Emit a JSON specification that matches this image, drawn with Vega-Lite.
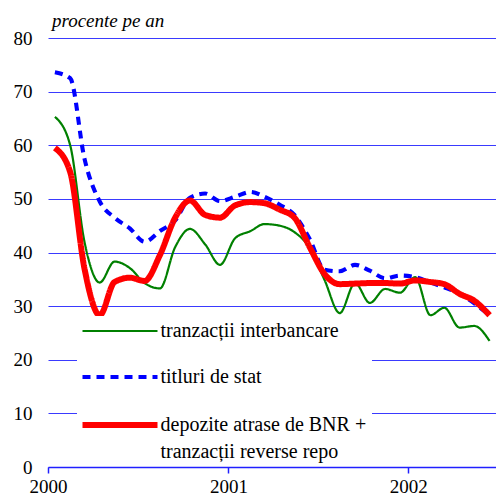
{
  "$schema": "https://vega.github.io/schema/vega-lite/v6.json",
  "width": 448,
  "height": 429,
  "autosize": {"type": "none"},
  "padding": {"left": 48, "top": 38, "right": 0, "bottom": 33},
  "background": "white",
  "title": {"text": "procente pe an", "anchor": "start", "frame": "group", "fontSize": 19, "fontStyle": "italic", "fontWeight": "normal", "color": "black", "offset": -2, "dx": 4},
  "data": {"values": [
    {"luna": "2000-01-15", "tranzacții interbancare": 65.3, "titluri de stat": 73.6, "depozite atrase de BNR + tranzacții reverse repo": 59.5},
    {"luna": "2000-02-15", "tranzacții interbancare": 60.0, "titluri de stat": 72.5, "depozite atrase de BNR + tranzacții reverse repo": 55.0},
    {"luna": "2000-03-15", "tranzacții interbancare": 42.0, "titluri de stat": 57.5, "depozite atrase de BNR + tranzacții reverse repo": 37.0},
    {"luna": "2000-04-15", "tranzacții interbancare": 34.4, "titluri de stat": 49.5, "depozite atrase de BNR + tranzacții reverse repo": 28.3},
    {"luna": "2000-05-15", "tranzacții interbancare": 38.3, "titluri de stat": 46.5, "depozite atrase de BNR + tranzacții reverse repo": 34.5},
    {"luna": "2000-06-15", "tranzacții interbancare": 37.1, "titluri de stat": 44.5, "depozite atrase de BNR + tranzacții reverse repo": 35.3},
    {"luna": "2000-07-15", "tranzacții interbancare": 34.3, "titluri de stat": 42.0, "depozite atrase de BNR + tranzacții reverse repo": 34.7},
    {"luna": "2000-08-15", "tranzacții interbancare": 33.3, "titluri de stat": 44.0, "depozite atrase de BNR + tranzacții reverse repo": 39.5},
    {"luna": "2000-09-15", "tranzacții interbancare": 41.0, "titluri de stat": 46.0, "depozite atrase de BNR + tranzacții reverse repo": 46.5},
    {"luna": "2000-10-15", "tranzacții interbancare": 44.4, "titluri de stat": 50.2, "depozite atrase de BNR + tranzacții reverse repo": 49.7},
    {"luna": "2000-11-15", "tranzacții interbancare": 41.5, "titluri de stat": 51.0, "depozite atrase de BNR + tranzacții reverse repo": 47.0},
    {"luna": "2000-12-15", "tranzacții interbancare": 37.7, "titluri de stat": 49.6, "depozite atrase de BNR + tranzacții reverse repo": 46.5},
    {"luna": "2001-01-15", "tranzacții interbancare": 42.7, "titluri de stat": 50.4, "depozite atrase de BNR + tranzacții reverse repo": 48.8},
    {"luna": "2001-02-15", "tranzacții interbancare": 44.0, "titluri de stat": 51.3, "depozite atrase de BNR + tranzacții reverse repo": 49.4},
    {"luna": "2001-03-15", "tranzacții interbancare": 45.3, "titluri de stat": 50.4, "depozite atrase de BNR + tranzacții reverse repo": 49.2},
    {"luna": "2001-04-15", "tranzacții interbancare": 45.0, "titluri de stat": 48.9, "depozite atrase de BNR + tranzacții reverse repo": 48.0},
    {"luna": "2001-05-15", "tranzacții interbancare": 43.8, "titluri de stat": 47.0, "depozite atrase de BNR + tranzacții reverse repo": 46.5},
    {"luna": "2001-06-15", "tranzacții interbancare": 40.8, "titluri de stat": 42.5, "depozite atrase de BNR + tranzacții reverse repo": 41.0},
    {"luna": "2001-07-15", "tranzacții interbancare": 34.9, "titluri de stat": 36.8, "depozite atrase de BNR + tranzacții reverse repo": 36.0},
    {"luna": "2001-08-15", "tranzacții interbancare": 28.7, "titluri de stat": 36.5, "depozite atrase de BNR + tranzacții reverse repo": 34.1},
    {"luna": "2001-09-15", "tranzacții interbancare": 34.3, "titluri de stat": 37.7, "depozite atrase de BNR + tranzacții reverse repo": 34.2},
    {"luna": "2001-10-15", "tranzacții interbancare": 30.6, "titluri de stat": 36.6, "depozite atrase de BNR + tranzacții reverse repo": 34.3},
    {"luna": "2001-11-15", "tranzacții interbancare": 33.2, "titluri de stat": 35.2, "depozite atrase de BNR + tranzacții reverse repo": 34.3},
    {"luna": "2001-12-15", "tranzacții interbancare": 32.5, "titluri de stat": 35.7, "depozite atrase de BNR + tranzacții reverse repo": 34.2},
    {"luna": "2002-01-15", "tranzacții interbancare": 35.4, "titluri de stat": 35.4, "depozite atrase de BNR + tranzacții reverse repo": 34.8},
    {"luna": "2002-02-15", "tranzacții interbancare": 28.3, "titluri de stat": 34.4, "depozite atrase de BNR + tranzacții reverse repo": 34.5},
    {"luna": "2002-03-15", "tranzacții interbancare": 29.7, "titluri de stat": 33.5, "depozite atrase de BNR + tranzacții reverse repo": 34.1},
    {"luna": "2002-04-15", "tranzacții interbancare": 26.0, "titluri de stat": 32.3, "depozite atrase de BNR + tranzacții reverse repo": 32.3},
    {"luna": "2002-05-15", "tranzacții interbancare": 26.3, "titluri de stat": 30.5, "depozite atrase de BNR + tranzacții reverse repo": 31.0},
    {"luna": "2002-06-15", "tranzacții interbancare": 23.5, "titluri de stat": 28.3, "depozite atrase de BNR + tranzacții reverse repo": 28.3}
  ]},
  "transform": [
    {"fold": ["tranzacții interbancare", "titluri de stat", "depozite atrase de BNR + tranzacții reverse repo"], "as": ["serie", "valoare"]}
  ],
  "mark": {"type": "line", "interpolate": "monotone"},
  "encoding": {
    "x": {
      "field": "luna", "type": "temporal",
      "scale": {"type": "utc", "domain": [{"year": 2000, "month": 1, "date": 1, "utc": true}, {"year": 2002, "month": 6, "date": 28, "utc": true}]},
      "axis": {
        "title": null, "format": "%Y", "grid": false, "zindex": 1,
        "values": [{"year": 2000, "month": 1, "date": 1, "utc": true}, {"year": 2001, "month": 1, "date": 1, "utc": true}, {"year": 2002, "month": 1, "date": 1, "utc": true}],
        "domainColor": "#2020ff", "domainWidth": 1.5, "tickColor": "#2020ff", "tickSize": 6, "tickWidth": 1.5,
        "labelPadding": 4, "labelFlush": false
      }
    },
    "y": {
      "field": "valoare", "type": "quantitative",
      "scale": {"domain": [0, 80], "nice": false},
      "axis": {
        "title": null, "values": [0, 10, 20, 30, 40, 50, 60, 70, 80], "domain": false, "ticks": false,
        "grid": true, "gridColor": "#3a3aff", "gridWidth": 1, "gridOpacity": 1,
        "labelPadding": 16
      }
    },
    "color": {
      "field": "serie", "type": "nominal",
      "scale": {"domain": ["tranzacții interbancare", "titluri de stat", "depozite atrase de BNR + tranzacții reverse repo"], "range": ["#008000", "#0000ff", "#ff0000"]},
      "legend": {
        "title": null,
        "labelExpr": "indexof(datum.label, 'BNR') >= 0 ? ['depozite atrase de BNR +', 'tranzacții reverse repo'] : datum.label"
      }
    },
    "strokeWidth": {
      "field": "serie", "type": "nominal",
      "scale": {"domain": ["tranzacții interbancare", "titluri de stat", "depozite atrase de BNR + tranzacții reverse repo"], "range": [2.2, 6, 6.5]},
      "legend": {"title": null}
    },
    "strokeDash": {
      "field": "serie", "type": "nominal",
      "scale": {"domain": ["tranzacții interbancare", "titluri de stat", "depozite atrase de BNR + tranzacții reverse repo"], "range": [[1, 0], [8, 6], [1, 0]]},
      "legend": {"title": null}
    }
  },
  "config": {
    "font": "serif",
    "view": {"stroke": null},
    "style": {"guide-label": {"lineHeight": 27, "font": "serif"}, "group-title": {"font": "serif"}},
    "title": {"font": "serif"},
    "axis": {"labelFont": "serif", "labelFontSize": 19, "labelColor": "black"},
    "legend": {
      "orient": "none", "legendX": 29, "legendY": 278,
      "symbolType": "M-10,0H10", "symbolSize": 56.25, "symbolOffset": 28,
      "fillColor": "white", "padding": 5,
      "labelFont": "serif", "labelFontSize": 20, "labelColor": "black", "labelLimit": 0,
      "rowPadding": 26, "labelOffset": 30.5
    }
  }
}
